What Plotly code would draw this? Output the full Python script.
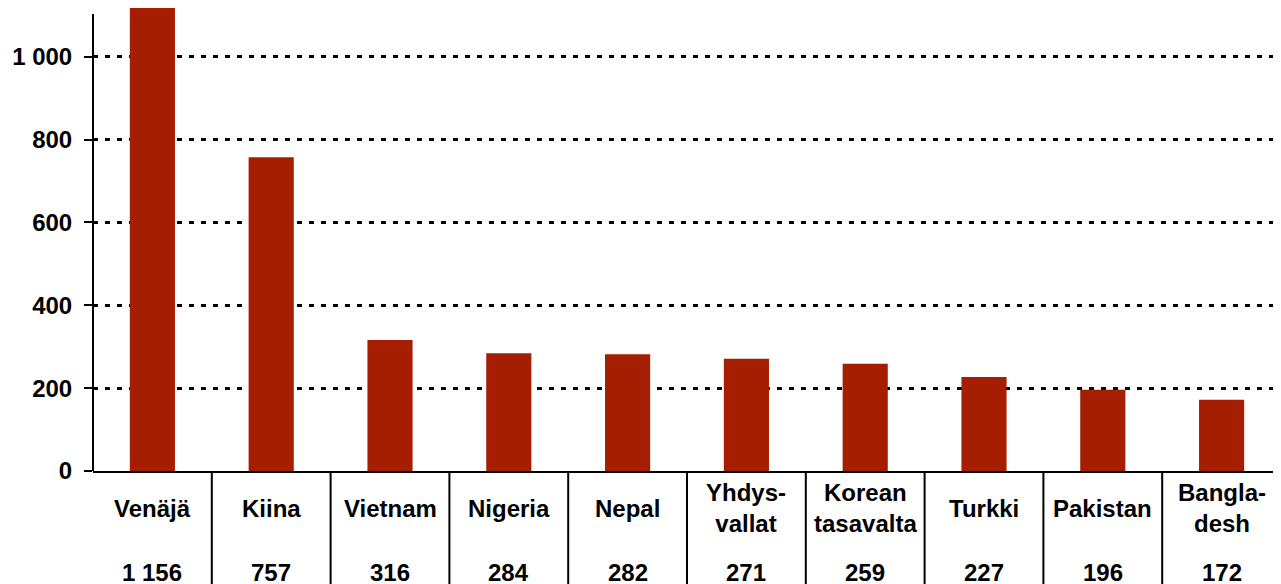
import plotly.graph_objects as go

categories = ["Venäjä", "Kiina", "Vietnam", "Nigeria", "Nepal",
              "Yhdys-<br>vallat", "Korean<br>tasavalta", "Turkki", "Pakistan", "Bangla-<br>desh"]
values = [1156, 757, 316, 284, 282, 271, 259, 227, 196, 172]
value_labels = ["1 156", "757", "316", "284", "282", "271", "259", "227", "196", "172"]
y_tickvals = [0, 200, 400, 600, 800, 1000]
y_ticktext = ["0", "200", "400", "600", "800", "1 000"]

W, H = 1281, 584
# page body has an 8px margin, so the figure is offset by 8px; compensate
L, R, T, B = 85, 8, 0, 121
plot_h = H - T - B
Y_TOP = 1117.5
AXIS_TOP = 1103

FONT = dict(family="Liberation Sans, Arial, sans-serif", size=24, color="black", weight="bold")
BAR_COLOR = "#A61E02"

x_idx = list(range(len(categories)))

fig = go.Figure()
fig.add_trace(go.Bar(x=x_idx, y=values, width=0.38, marker=dict(color=BAR_COLOR, line=dict(width=0)),
                     hoverinfo="skip"))

shapes = []
# y-axis line (shorter than plot area)
shapes.append(dict(type="line", xref="paper", yref="y", x0=0, x1=0, y0=0, y1=AXIS_TOP,
                   line=dict(color="black", width=2)))
# separators below the axis
n = len(categories)
for i in range(1, n):
    shapes.append(dict(type="line", xref="paper", yref="paper", x0=i / n, x1=i / n,
                       y0=0, y1=-(B + 5) / plot_h, line=dict(color="black", width=2)))

annotations = []
for i, (c, v) in enumerate(zip(categories, value_labels)):
    annotations.append(dict(x=i, y=0, xref="x", yref="paper", text=c, showarrow=False,
                            yanchor="middle", xanchor="center", yshift=-37, font=FONT, align="center"))
    annotations.append(dict(x=i, y=0, xref="x", yref="paper", text=v, showarrow=False,
                            yanchor="middle", xanchor="center", yshift=-101, font=FONT))

fig.update_layout(
    width=W, height=H,
    margin=dict(l=L, r=R, t=T, b=B, pad=0, autoexpand=False),
    paper_bgcolor="white", plot_bgcolor="white",
    showlegend=False,
    shapes=shapes, annotations=annotations,
    font=FONT,
)
fig.update_xaxes(range=[-0.5, n - 0.5], showticklabels=False, showgrid=False, zeroline=False,
                 showline=True, linecolor="black", linewidth=2, ticks="", automargin=False)
fig.update_yaxes(range=[0, Y_TOP], tickvals=y_tickvals, ticktext=y_ticktext,
                 showgrid=True, gridcolor="black", gridwidth=3, griddash="5px,7px",
                 zeroline=False, showline=False, ticks="outside", ticklen=8, tickwidth=2,
                 tickcolor="black", ticklabelstandoff=7, tickfont=FONT, automargin=False)

fig.write_html("out.html")
